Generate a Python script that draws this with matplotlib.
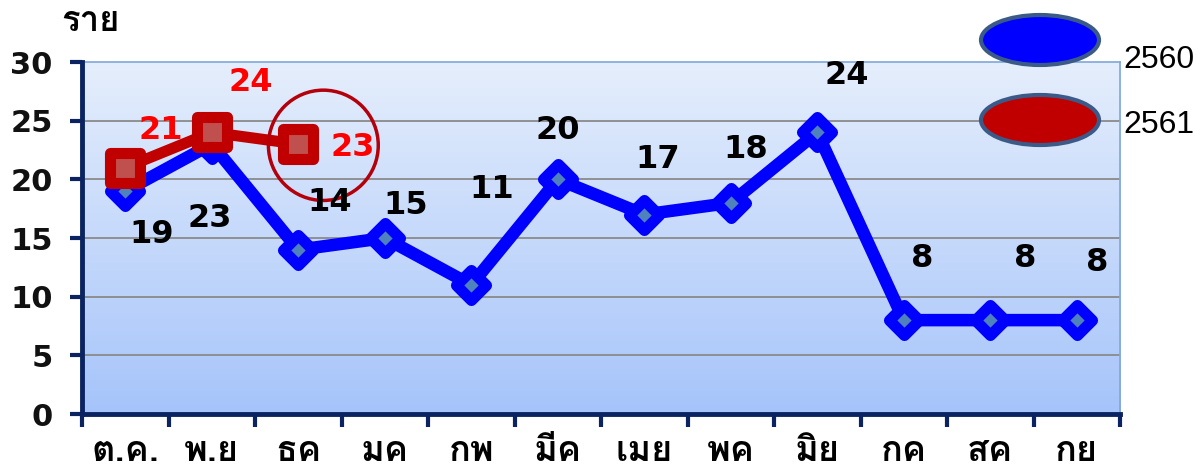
import matplotlib
matplotlib.use('Agg')
import matplotlib.pyplot as plt
import numpy as np
from matplotlib.patches import Ellipse
from matplotlib.markers import MarkerStyle
from matplotlib.colors import LinearSegmentedColormap

# data
months = ['ต.ค.', 'พ.ย', 'ธค', 'มค', 'กพ', 'มีค', 'เมย', 'พค', 'มิย', 'กค', 'สค', 'กย']
cases_2560 = [19, 23, 14, 15, 11, 20, 17, 18, 24, 8, 8, 8]
cases_2561 = [21, 24, 23]
series_names = ['2560', '2561']

# label offsets in pixels (dx, dy)
off_2560 = [(26, -43), (-2, -74), (31, 47), (21, 33), (20, 95), (0, 49),
            (13, 55), (15, 53), (29, 57), (18, 62), (35, 62), (20, 58)]
off_2561 = [(36, 37), (39, 50), (54, -3)]

thai = ['Loma', 'Noto Sans Thai Looped', 'DejaVu Sans']
num_font = ['DejaVu Sans']
navy = '#0b2461'

fig = plt.figure(figsize=(12.04, 4.71), dpi=100)
ax = fig.add_axes([82 / 1204, 57 / 471, 1038 / 1204, 352 / 471])

# gradient background
grad = LinearSegmentedColormap.from_list('bg', ['#a6c4fa', '#e5eefc'])
ax.imshow(np.linspace(0, 1, 256).reshape(-1, 1), cmap=grad, aspect='auto',
          origin='lower', extent=[0, 1, 0, 1], transform=ax.transAxes, zorder=0)

x = np.arange(len(months))
ax.set_xlim(-0.5, len(months) - 0.5)
ax.set_ylim(0, 30)

for v in range(5, 30, 5):
    ax.axhline(v, color='#8a8a8a', lw=1.3, zorder=1)

ax.plot(x, cases_2560, color='#0000ff', lw=9,
        marker=MarkerStyle('D', joinstyle='round'), markersize=15,
        markerfacecolor='#4f81bd', markeredgecolor='#0000ff', markeredgewidth=8,
        solid_joinstyle='round', zorder=3)
x2 = np.arange(len(cases_2561))
ax.plot(x2, cases_2561, color='#c00000', lw=8,
        marker=MarkerStyle('s', joinstyle='round'), markersize=21,
        markerfacecolor='#c0504d', markeredgecolor='#c00000', markeredgewidth=8,
        solid_joinstyle='round', zorder=4)

for xi, v, (dx, dy) in zip(x, cases_2560, off_2560):
    ax.annotate(str(v), (xi, v), xytext=(dx, dy), textcoords='offset pixels',
                ha='center', va='center', fontsize=23, fontweight='bold',
                family=num_font, color='black', zorder=6)
for xi, v, (dx, dy) in zip(x2, cases_2561, off_2561):
    ax.annotate(str(v), (xi, v), xytext=(dx, dy), textcoords='offset pixels',
                ha='center', va='center', fontsize=23, fontweight='bold',
                family=num_font, color='#ff0000', zorder=6)

# highlight circle
ax.add_patch(Ellipse((2.29, 22.9), 1.27, 9.4, fill=False, edgecolor='#b3000a',
                     lw=2.5, zorder=5))

# spines
for s in ['top', 'right']:
    ax.spines[s].set_color('#7fa7d9')
    ax.spines[s].set_linewidth(1.2)
for s in ['left', 'bottom']:
    ax.spines[s].set_color(navy)
    ax.spines[s].set_linewidth(3.5)
ax.spines['left'].set_zorder(7)
ax.spines['bottom'].set_zorder(7)

ax.set_yticks(range(0, 31, 5))
ax.set_yticklabels([str(v) for v in range(0, 31, 5)], fontsize=22,
                   fontweight='bold', family=num_font, color='#111111')
ax.tick_params(axis='y', length=9, width=3, color=navy, pad=12)

ax.set_xticks(x)
ax.set_xticklabels(months, fontsize=26, fontweight='bold', family=thai)
ax.set_xticks(np.arange(-0.5, len(months), 1), minor=True)
ax.tick_params(axis='x', which='major', length=0, pad=16)
ax.tick_params(axis='x', which='minor', length=9, width=3, color=navy)

fig.text(90 / 1204, 1 - 22 / 471, 'ราย', ha='center', va='center',
         fontsize=25, fontweight='bold', family=thai)

# legend
leg_cols = ['#0000ff', '#c00000']
leg_y = [40, 120]
txt_y = [60, 125]
for name, c, ey, ty in zip(series_names, leg_cols, leg_y, txt_y):
    fig.add_artist(Ellipse((1040 / 1204, 1 - ey / 471), 118 / 1204, 50 / 471,
                           facecolor=c, edgecolor='#3b5a88', lw=3,
                           transform=fig.transFigure))
    fig.text(1123 / 1204, 1 - ty / 471, name, ha='left', va='center',
             fontsize=23, family='Liberation Sans')

fig.savefig('out.png', dpi=100)
